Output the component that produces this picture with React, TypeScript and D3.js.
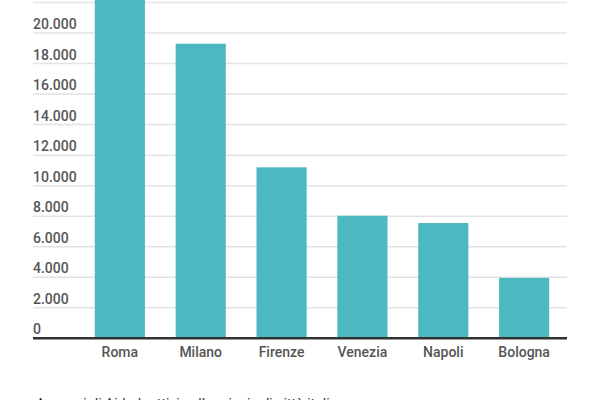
import React, { useEffect, useRef } from 'react';
import * as d3 from 'd3';

const cities = ['Roma', 'Milano', 'Firenze', 'Venezia', 'Napoli', 'Bologna'];
const values = [23000, 19300, 11200, 8030, 7550, 3960];
const gridTicks = [2000, 4000, 6000, 8000, 10000, 12000, 14000, 16000, 18000, 20000, 22000];
const labelTicks = [0, 2000, 4000, 6000, 8000, 10000, 12000, 14000, 16000, 18000, 20000];
const note = 'Annunci di Airbnb attivi nelle principali città italiane';

const width = 600;
const height = 400;
const barColor = '#4bb8c2';

const itFormat = d3.formatLocale({
  decimal: ',',
  thousands: '.',
  grouping: [3],
  currency: ['€', '']
}).format(',d');

const App: React.FC = () => {
  const svgRef = useRef<SVGSVGElement>(null);

  useEffect(() => {
    const svg = d3.select(svgRef.current);
    svg.selectAll('*').remove();

    const gridLeft = 33;
    const gridRight = 567;

    const x = d3.scaleBand()
      .domain(cities)
      .range([77, gridRight])
      .paddingInner(0.38)
      .paddingOuter(0.22);

    const y = d3.scaleLinear()
      .domain([0, 22000])
      .range([338.3, 2.5]);

    // grid lines
    svg.append('g')
      .selectAll('line')
      .data(gridTicks)
      .enter().append('line')
      .attr('x1', gridLeft)
      .attr('x2', gridRight)
      .attr('y1', d => y(d))
      .attr('y2', d => y(d))
      .style('stroke', '#e3e3e3')
      .style('stroke-width', 1.5);

    // y labels, sitting above their grid line
    svg.append('g')
      .selectAll('text')
      .data(labelTicks)
      .enter().append('text')
      .attr('x', gridLeft)
      .attr('y', d => y(d) - 4)
      .style('font-family', 'Roboto, sans-serif')
      .style('font-size', '14px')
      .style('font-weight', 500)
      .style('fill', '#555')
      .text(d => itFormat(d));

    // bars
    svg.append('g')
      .selectAll('rect')
      .data(values)
      .enter().append('rect')
      .attr('x', (_, i) => x(cities[i])!)
      .attr('y', d => y(d))
      .attr('width', x.bandwidth())
      .attr('height', d => y(0) - y(d))
      .style('fill', barColor);

    // baseline
    svg.append('line')
      .attr('x1', gridLeft)
      .attr('x2', gridRight)
      .attr('y1', y(0))
      .attr('y2', y(0))
      .style('stroke', '#333')
      .style('stroke-width', 2.5);

    // x labels
    svg.append('g')
      .selectAll('text')
      .data(cities)
      .enter().append('text')
      .attr('x', d => x(d)! + x.bandwidth() / 2)
      .attr('y', 356.5)
      .attr('text-anchor', 'middle')
      .style('font-family', 'Roboto, sans-serif')
      .style('font-size', '14px')
      .style('font-weight', 500)
      .style('fill', '#555')
      .text(d => d);

    // note at the bottom, partly cut off as in the source
    svg.append('text')
      .attr('x', 36)
      .attr('y', 409)
      .style('font-family', 'Roboto, sans-serif')
      .style('font-size', '14px')
      .style('fill', '#333')
      .text(note);
  }, []);

  return (
    <svg
      ref={svgRef}
      width={width}
      height={height}
      style={{ position: 'fixed', left: 0, top: 0, background: '#fff' }}
    />
  );
};

export default App;
